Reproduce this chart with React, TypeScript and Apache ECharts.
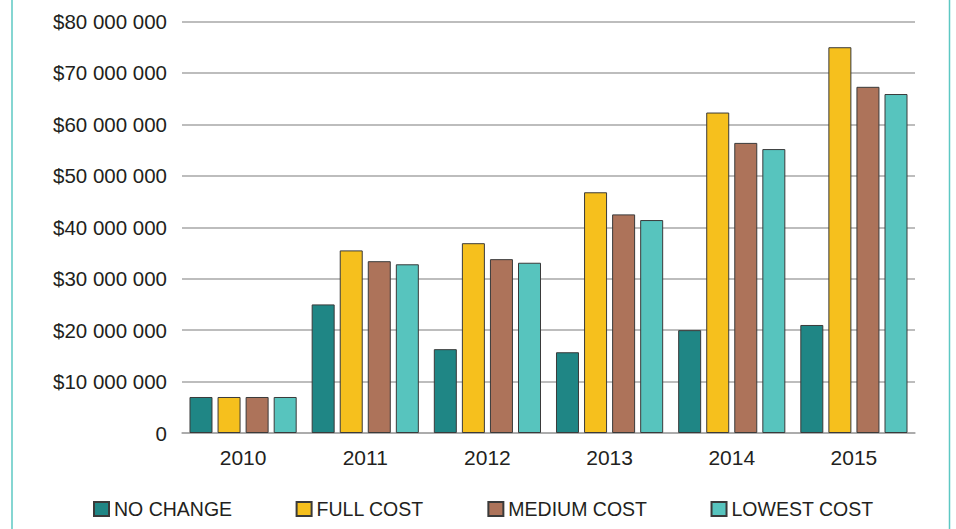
import React, { useEffect, useRef } from "react";
import * as echarts from "echarts";

const categories = ["2010", "2011", "2012", "2013", "2014", "2015"];
const seriesNames = ["NO CHANGE", "FULL COST", "MEDIUM COST", "LOWEST COST"];
const noChange = [7000000, 25000000, 16300000, 15700000, 20000000, 21000000];
const fullCost = [7000000, 35500000, 36900000, 46800000, 62300000, 75000000];
const mediumCost = [7000000, 33400000, 33800000, 42500000, 56400000, 67300000];
const lowestCost = [7000000, 32800000, 33100000, 41400000, 55200000, 65900000];
const colors = ["#1f8685", "#f6c01d", "#ad735a", "#57c4be"];

function fmt(v: number): string {
  if (v === 0) return "0";
  const s = Math.round(v).toString();
  return "$" + s.replace(/\B(?=(\d{3})+(?!\d))/g, " ");
}

export default function App() {
  const ref = useRef<HTMLDivElement>(null);
  useEffect(() => {
    if (!ref.current) return;
    const chart = echarts.init(ref.current, undefined, { renderer: "svg" });
    const data = [noChange, fullCost, mediumCost, lowestCost];
    chart.setOption({
      animation: false,
      textStyle: { fontFamily: "Liberation Sans, Arial, sans-serif" },
      grid: { left: 182, right: 41, top: 21.5, bottom: 96, containLabel: false },
      legend: {
        bottom: 5,
        left: 88,
        itemWidth: 15,
        itemHeight: 14,
        itemGap: 63.5,
        icon: "rect",
        textStyle: { fontSize: 19.5, color: "#231f20" },
        data: seriesNames,
      },
      xAxis: {
        type: "category",
        data: categories,
        axisTick: { show: false },
        axisLine: { lineStyle: { color: "#a7a7a7", width: 1.5 } },
        axisLabel: { fontSize: 21, color: "#231f20", margin: 14 },
      },
      yAxis: {
        type: "value",
        min: 0,
        max: 80000000,
        interval: 10000000,
        axisLabel: { fontSize: 20.5, color: "#231f20", margin: 15, formatter: fmt },
        splitLine: { lineStyle: { color: "#a7a7a7", width: 1.5 } },
        axisLine: { show: false },
        axisTick: { show: false },
      },
      series: seriesNames.map((name, i) => ({
        name,
        type: "bar",
        data: data[i],
        barWidth: 23,
        barGap: "22%",
        itemStyle: { color: colors[i], borderColor: "#3a3a3a", borderWidth: 1 },
      })),
      graphic: [
        { type: "line", shape: { x1: 12, y1: 0, x2: 12, y2: 529 }, style: { stroke: "#5cc8c3", lineWidth: 1.5 } },
        { type: "line", shape: { x1: 949.5, y1: 0, x2: 949.5, y2: 529 }, style: { stroke: "#5cc8c3", lineWidth: 1.5 } },
      ],
    });
    return () => chart.dispose();
  }, []);
  return (
    <div
      ref={ref}
      style={{ position: "absolute", left: 0, top: 0, width: 956, height: 529, background: "#ffffff" }}
    />
  );
}
